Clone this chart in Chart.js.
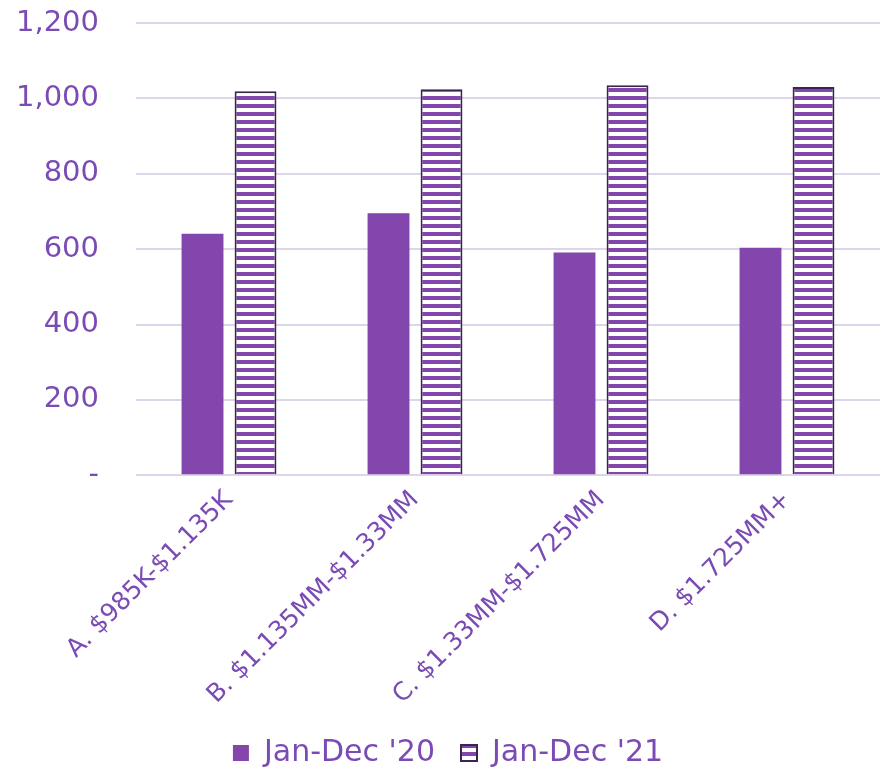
<!DOCTYPE html>
<html><head><meta charset="utf-8">
<script src="https://cdn.jsdelivr.net/npm/chart.js@4"></script>
<style>html,body{margin:0;padding:0;background:#fff}#wrap{width:885px;height:778px}</style>
</head><body><div id="wrap"><canvas id="c" width="885" height="778"></canvas></div>
<script>
const categories = ["A. $985K-$1.135K", "B. $1.135MM-$1.33MM", "C. $1.33MM-$1.725MM", "D. $1.725MM+"];
const series2020 = [641, 695, 591, 604];
const series2021 = [1019, 1024, 1035, 1030];
const seriesNames = ["Jan-Dec '20", "Jan-Dec '21"];

const purple = '#8246ad';
const txt = '#7a4bb5';
const fam = '"DejaVu Sans"';
function stripes(){
  const p = document.createElement('canvas');
  p.width = 8; p.height = 8;
  const g = p.getContext('2d');
  g.fillStyle = '#ffffff'; g.fillRect(0,0,8,8);
  g.fillStyle = purple; g.fillRect(0,0,8,4);
  return g.createPattern(p,'repeat');
}
const ctx = document.getElementById('c').getContext('2d');
new Chart(ctx, {
  type: 'bar',
  data: {
    labels: categories,
    datasets: [
      {label: seriesNames[0], data: series2020, backgroundColor: purple, borderWidth: 0},
      {label: seriesNames[1], data: series2021, backgroundColor: stripes(), borderColor: '#3a2450', borderWidth: 2}
    ]
  },
  options: {
    responsive: false, animation: false,
    layout: {padding: {left: 16, right: 5, top: 23, bottom: 0}},
    datasets: {bar: {categoryPercentage: 0.57, barPercentage: 0.79}},
    plugins: {
      tooltip: {enabled: false},
      legend: {position: 'bottom',
        labels: {color: txt, font: {family: fam, size: 30}, boxWidth: 16, boxHeight: 16, padding: 26}}
    },
    scales: {
      x: {
        grid: {display: false},
        border: {display: false},
        ticks: {color: txt, font: {family: fam, size: 25}, minRotation: 45, maxRotation: 45, padding: 2}
      },
      y: {
        min: 0, max: 1200,
        grid: {color: '#ddd5ec', lineWidth: 2, drawTicks: true, tickLength: 37, tickColor: 'rgba(0,0,0,0)'},
        border: {display: false},
        ticks: {stepSize: 200, color: txt, font: {family: fam, size: 29}, padding: 0,
          callback: v => v === 0 ? '-' : v.toLocaleString('en-US')}
      }
    }
  }
});
</script></body></html>
